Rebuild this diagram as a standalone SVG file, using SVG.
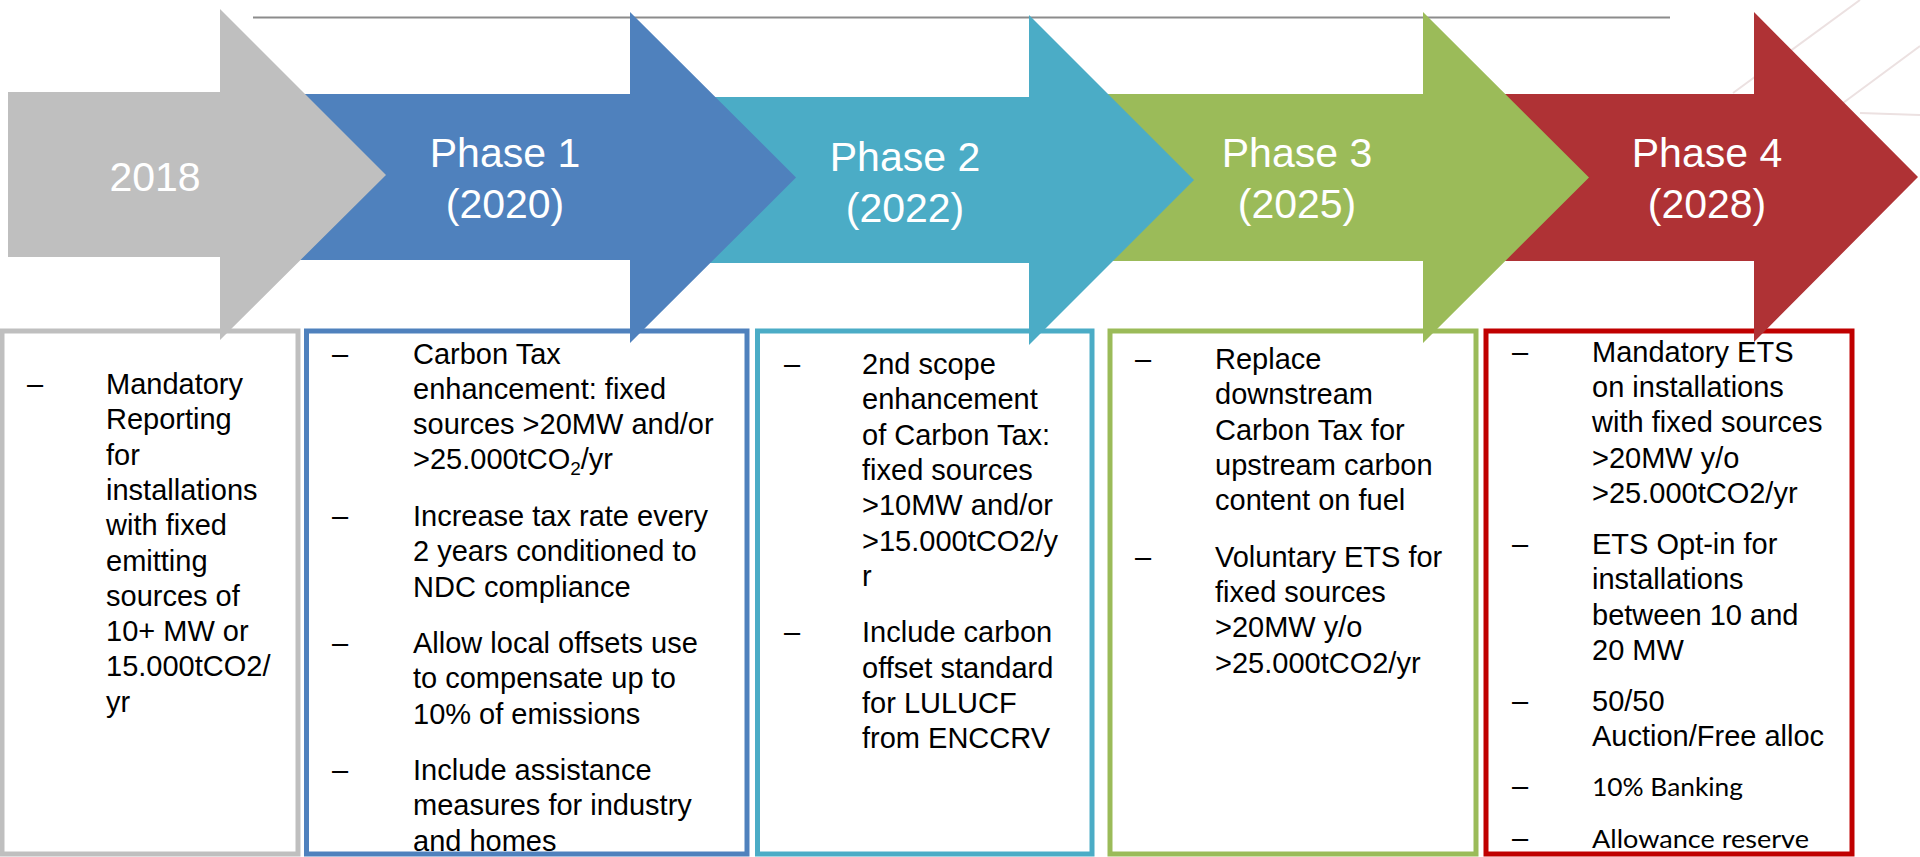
<svg xmlns="http://www.w3.org/2000/svg" width="1920" height="857" viewBox="0 0 1920 857">
<style>
.bx{fill:#FFFFFF;stroke-width:5}
.ttl{font-family:"Liberation Sans",Arial,sans-serif;font-size:41px;fill:#FFFFFF;text-anchor:middle}
.bd{font-family:"Liberation Sans",Arial,sans-serif;font-size:29px;fill:#000000}
.cal{font-family:Lato,"Open Sans",sans-serif;font-size:25px;fill:#000000}
.deco{stroke:#ECE1E1;stroke-width:2;fill:none}
</style>
<rect x="0" y="0" width="1920" height="857" fill="#FFFFFF"/>
<g id="background">
<line class="deco" x1="1733" y1="93" x2="1860" y2="0"/>
<line class="deco" x1="1843" y1="103" x2="1920" y2="46"/>
<line class="deco" x1="1860" y1="113" x2="1920" y2="115"/>
</g>
<g id="connectors">
<line x1="253" y1="17.5" x2="1670" y2="17.5" stroke="#8C8C8C" stroke-width="2"/>
</g>
<g id="phase4">
<rect class="bx" x="1486" y="331" width="366" height="523" stroke="#C00000"/>
<path d="M1423,94 H1754 V12 L1918,177 L1754,342 V261 H1423 Z" fill="#AF3235"/>
<text class="ttl" x="1707" y="167">Phase 4</text>
<text class="ttl" x="1707" y="218">(2028)</text>
<text class="bd">
<tspan x="1512" y="362">–</tspan><tspan x="1592" y="362">Mandatory ETS</tspan>
<tspan x="1592" y="397">on installations</tspan>
<tspan x="1592" y="432.3">with fixed sources</tspan>
<tspan x="1592" y="467.5">&gt;20MW y/o</tspan>
<tspan x="1592" y="502.5">&gt;25.000tCO2/yr</tspan>
<tspan x="1512" y="554">–</tspan><tspan x="1592" y="554">ETS Opt-in for</tspan>
<tspan x="1592" y="589.3">installations</tspan>
<tspan x="1592" y="624.6">between 10 and</tspan>
<tspan x="1592" y="660">20 MW</tspan>
<tspan x="1512" y="710.5">–</tspan><tspan x="1592" y="710.5">50/50</tspan>
<tspan x="1592" y="745.7">Auction/Free alloc</tspan>
<tspan x="1512" y="796">–</tspan>
<tspan x="1512" y="847.5">–</tspan>
</text>
<text class="cal" x="1592" y="796" textLength="151" lengthAdjust="spacingAndGlyphs">10% Banking</text>
<text class="cal" x="1592" y="847.5" textLength="217" lengthAdjust="spacingAndGlyphs">Allowance reserve</text>
</g>
<g id="phase3">
<rect class="bx" x="1110" y="331" width="366" height="523" stroke="#9BBB59"/>
<path d="M1029,94 H1423 V12 L1589,177.5 L1423,343 V261 H1029 Z" fill="#9BBB59"/>
<text class="ttl" x="1297" y="167">Phase 3</text>
<text class="ttl" x="1297" y="218">(2025)</text>
<text class="bd">
<tspan x="1135" y="369">–</tspan><tspan x="1215" y="369">Replace</tspan>
<tspan x="1215" y="404.3">downstream</tspan>
<tspan x="1215" y="439.6">Carbon Tax for</tspan>
<tspan x="1215" y="474.9">upstream carbon</tspan>
<tspan x="1215" y="510.2">content on fuel</tspan>
<tspan x="1135" y="566.7">–</tspan><tspan x="1215" y="566.7">Voluntary ETS for</tspan>
<tspan x="1215" y="602">fixed sources</tspan>
<tspan x="1215" y="637.3">&gt;20MW y/o</tspan>
<tspan x="1215" y="672.6">&gt;25.000tCO2/yr</tspan>
</text>
</g>
<g id="phase2">
<rect class="bx" x="757.5" y="331" width="334.5" height="523" stroke="#4BACC6"/>
<path d="M630,97 H1029 V15 L1194,180 L1029,345 V263 H630 Z" fill="#4BACC6"/>
<text class="ttl" x="905" y="170.5">Phase 2</text>
<text class="ttl" x="905" y="221.5">(2022)</text>
<text class="bd">
<tspan x="784" y="374">–</tspan><tspan x="862" y="374">2nd scope</tspan>
<tspan x="862" y="409.3">enhancement</tspan>
<tspan x="862" y="444.6">of Carbon Tax:</tspan>
<tspan x="862" y="479.9">fixed sources</tspan>
<tspan x="862" y="515.2">&gt;10MW and/or</tspan>
<tspan x="862" y="550.5">&gt;15.000tCO2/y</tspan>
<tspan x="862" y="585.8">r</tspan>
<tspan x="784" y="642.3">–</tspan><tspan x="862" y="642.3">Include carbon</tspan>
<tspan x="862" y="677.6">offset standard</tspan>
<tspan x="862" y="712.9">for LULUCF</tspan>
<tspan x="862" y="748.2">from ENCCRV</tspan>
</text>
</g>
<g id="phase1">
<rect class="bx" x="306.5" y="331" width="440.5" height="523" stroke="#4F81BD"/>
<path d="M220,94 H630 V12 L796,177.5 L630,343 V260 H220 Z" fill="#4F81BD"/>
<text class="ttl" x="505" y="167">Phase 1</text>
<text class="ttl" x="505" y="218">(2020)</text>
<text class="bd">
<tspan x="332" y="363.5">–</tspan><tspan x="413" y="363.5">Carbon Tax</tspan>
<tspan x="413" y="398.8">enhancement: fixed</tspan>
<tspan x="413" y="434.1">sources &gt;20MW and/or</tspan>
<tspan x="413" y="469.4">&gt;25.000tCO</tspan><tspan font-size="19" dy="6">2</tspan><tspan dy="-6">/yr</tspan>
<tspan x="332" y="525.9">–</tspan><tspan x="413" y="525.9">Increase tax rate every</tspan>
<tspan x="413" y="561.2">2 years conditioned to</tspan>
<tspan x="413" y="596.5">NDC compliance</tspan>
<tspan x="332" y="653">–</tspan><tspan x="413" y="653">Allow local offsets use</tspan>
<tspan x="413" y="688.3">to compensate up to</tspan>
<tspan x="413" y="723.6">10% of emissions</tspan>
<tspan x="332" y="780.1">–</tspan><tspan x="413" y="780.1">Include assistance</tspan>
<tspan x="413" y="815.4">measures for industry</tspan>
<tspan x="413" y="850.7">and homes</tspan>
</text>
</g>
<g id="baseline2018">
<rect class="bx" x="2" y="331" width="296" height="523" stroke="#BFBFBF"/>
<path d="M8,92 H220 V9 L386,175 L220,340 V257 H8 Z" fill="#BFBFBF"/>
<text class="ttl" x="155" y="190.5">2018</text>
<text class="bd">
<tspan x="27" y="394">–</tspan><tspan x="106" y="394">Mandatory</tspan>
<tspan x="106" y="429.3">Reporting</tspan>
<tspan x="106" y="464.6">for</tspan>
<tspan x="106" y="499.9">installations</tspan>
<tspan x="106" y="535.2">with fixed</tspan>
<tspan x="106" y="570.5">emitting</tspan>
<tspan x="106" y="605.8">sources of</tspan>
<tspan x="106" y="641.1">10+ MW or</tspan>
<tspan x="106" y="676.4">15.000tCO2/</tspan>
<tspan x="106" y="711.7">yr</tspan>
</text>
</g>
</svg>
